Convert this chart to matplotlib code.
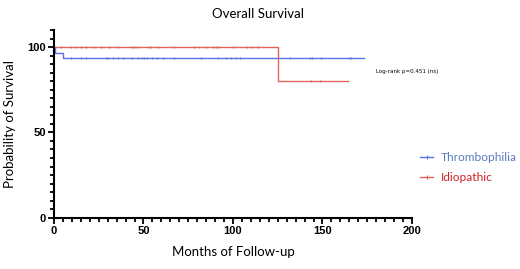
"""Kaplan-Meier overall survival, thrombophilia vs idiopathic."""

import matplotlib

matplotlib.use("Agg")
from matplotlib import pyplot as plt  # noqa: E402
from matplotlib.ticker import MultipleLocator  # noqa: E402

# step curves (time in months, survival in %)
THROMBO_TIMES = [0, 0.7, 5, 173]
THROMBO_SURV = [100, 96.7, 93.3, 93.3]
IDIO_TIMES = [0, 125, 164]
IDIO_SURV = [100, 80, 80]

# censored observations
THROMBO_CENSOR = [9.5, 15.1, 17.9, 29.1, 30.0, 33.2, 35.9, 38.7, 43.4, 46.8,
                  49.0, 50.5, 51.8, 54.6, 57.4, 61.1, 67.2, 82.1, 91.8, 96.1,
                  98.9, 101.7, 103.9, 131.8, 143.0, 143.9, 148.9, 164.9, 165.9]
IDIO_CENSOR = [3.9, 9.5, 12.3, 15.1, 17.9, 22.5, 26.3, 30.9, 35.9, 43.4,
               44.9, 46.2, 53.2, 54.2, 58.3, 67.2, 78.4, 81.2, 84.9, 89.0,
               90.5, 91.8, 100.2, 107.6, 110.9, 113.8, 143.6, 148.6]

BLUE = "#5b73e6"
RED = "#e0645c"
TEXT_FONT = "Lato"


def surv_at(times, surv, t):
    value = surv[0]
    for ti, si in zip(times, surv):
        if ti <= t:
            value = si
    return value


fig = plt.figure(figsize=(5.2, 2.69), dpi=100)
ax = fig.add_axes([0.1038, 0.1907, 0.6885, 0.6978])

for times, surv, censor, color, label in (
    (THROMBO_TIMES, THROMBO_SURV, THROMBO_CENSOR, BLUE, "Thrombophilia"),
    (IDIO_TIMES, IDIO_SURV, IDIO_CENSOR, RED, "Idiopathic"),
):
    ax.plot(times, surv, drawstyle="steps-post", color=color, linewidth=1.0,
            label=label, marker="|", markersize=2.2, markeredgewidth=0.8,
            markevery=[], clip_on=False)
    ax.plot(censor, [surv_at(times, surv, t) for t in censor], linestyle="none",
            marker="|", markersize=2.0, markeredgewidth=0.9, color=color,
            clip_on=False)

ax.set_xlim(0, 200)
ax.set_ylim(0, 110)
ax.set_xticks([0, 50, 100, 150, 200])
ax.set_yticks([0, 50, 100])
ax.xaxis.set_minor_locator(MultipleLocator(5))
ax.yaxis.set_minor_locator(MultipleLocator(5))
ax.tick_params(which="major", length=4, width=1.3, direction="out", pad=2)
ax.tick_params(which="minor", length=3, width=1.3, direction="out")
for lab in ax.get_xticklabels() + ax.get_yticklabels():
    lab.set_fontfamily("Liberation Sans")
    lab.set_fontweight("bold")
    lab.set_fontsize(8)

for side in ("top", "right"):
    ax.spines[side].set_visible(False)
for side in ("left", "bottom"):
    ax.spines[side].set_linewidth(1.5)

fig.text(0.496, 0.97, "Overall Survival", ha="center", va="top",
         fontsize=9.5, family=TEXT_FONT)
ax.set_xlabel("Months of Follow-up", fontsize=9.5, family=TEXT_FONT, labelpad=7)
ax.set_ylabel("Probability of Survival", fontsize=9.5, family=TEXT_FONT,
              labelpad=8)

ax.text(376 / 520, 1 - 72 / 269, "Log-rank p=0.451 (ns)",
        transform=fig.transFigure, fontsize=4, va="center", ha="left",
        family="Liberation Sans Narrow")

leg = fig.legend(loc="upper left", bbox_to_anchor=(0.799, 0.452), frameon=False,
                 handlelength=1.1, handletextpad=0.6, borderaxespad=0.0,
                 labelspacing=0.75, prop={"family": TEXT_FONT, "size": 8.6})
for text, color in zip(leg.get_texts(), ("#5a7ac0", "#d42029")):
    text.set_color(color)

fig.savefig("out.png", dpi=100, facecolor="white")
